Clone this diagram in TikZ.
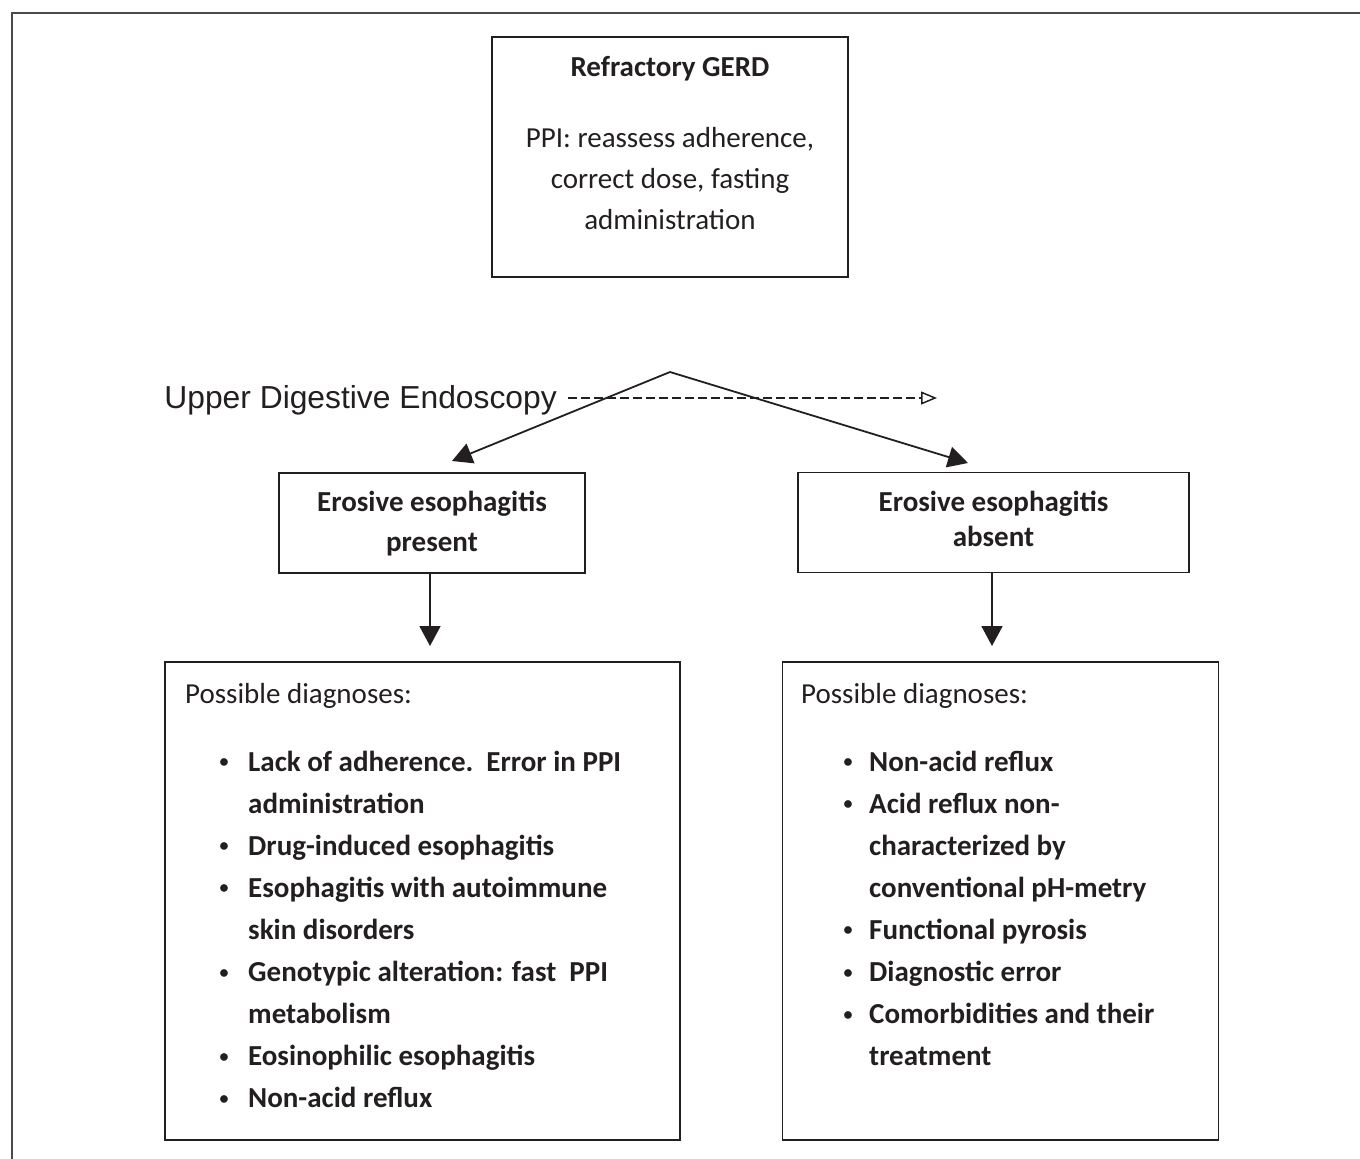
\documentclass[tikz,border=0pt]{standalone}
\usepackage{fontspec}
\setmainfont{Carlito}
\newfontfamily\arialfont{Liberation Sans}
\usetikzlibrary{arrows.meta}

\definecolor{inkgray}{HTML}{231F20}
\definecolor{framegray}{HTML}{4A4A4A}

\newcommand{\boxlines}[1]{\begin{tabular}[t]{@{}c@{}}#1\end{tabular}}
\newcommand{\dxitem}[1][19.5pt]{\llap{\raisebox{3.5pt}{\fontsize{18}{18}\selectfont\textbullet}\hspace{#1}}}

\tikzset{
  box/.style={draw=inkgray, line width=1.8pt, inner sep=0pt},
  txt/.style={inner sep=0pt, text=inkgray, font=\fontsize{29}{41}\selectfont},
  arr/.style={draw=inkgray, line width=1.8pt, -{Triangle[length=20pt,width=21pt]}},
}

\begin{document}
\begin{tikzpicture}[x=1pt,y=-1pt]
\useasboundingbox (0,0) rectangle (1360,1159);

% Outer frame (cut off at right and bottom)
\draw[framegray, line width=2pt] (12,1159) -- (12,13) -- (1360,13);

% Top box
\node[box, minimum width=356pt, minimum height=240pt] (gerd) at (670,157) {};
\node[txt, anchor=base, font=\fontsize{29}{41}\selectfont\bfseries] (gerdtitle) at (670,76) {Refractory GERD};
\node[txt, anchor=base] (gerdtext) at (670,147)
  {\boxlines{PPI: reassess adherence,\\correct dose, fasting\\administration}};

% Endoscopy
\node[txt, anchor=base east, font=\arialfont\fontsize{31.8}{38}\selectfont] (endo) at (557,408) {Upper Digestive Endoscopy};
\coordinate (apex) at (670,372);
\coordinate (dashend) at (937,398);
\coordinate (lefttip) at (452,461);
\coordinate (righttip) at (968,463);

% Second row
\node[box, minimum width=306pt, minimum height=100pt] (present) at (432,523) {};
\node[txt, anchor=base, font=\fontsize{29}{40}\selectfont\bfseries] (presenttext) at (432,511)
  {\boxlines{Erosive esophagitis\\present}};
\node[box, minimum width=391pt, minimum height=100pt] (absent) at (993.5,522.5) {};
\node[txt, anchor=base, font=\fontsize{29}{35}\selectfont\bfseries] (absenttext) at (993.5,511)
  {\boxlines{Erosive esophagitis\\absent}};
\coordinate (presentdown) at (430,646);
\coordinate (absentdown) at (992,646);

% Bottom row
\node[box, minimum width=515pt, minimum height=478pt] (dxpresent) at (422.5,901) {};
\node[txt, anchor=base west] (dxpresenthead) at (185,703) {Possible diagnoses:};
\node[txt, anchor=base west, font=\fontsize{29}{42.1}\selectfont\bfseries] (dxpresentlist) at (248,771)
  {\begin{tabular}[t]{@{}l@{}}
   \dxitem Lack of adherence.\ \ Error in PPI\\
   administration\\
   \dxitem Drug-induced esophagitis\\
   \dxitem Esophagitis with autoimmune\\
   skin disorders\\
   \dxitem Genotypic alteration: fast\ \ PPI\\
   metabolism\\
   \dxitem Eosinophilic esophagitis\\
   \dxitem Non-acid reflux
   \end{tabular}};

\node[box, minimum width=436pt, minimum height=478pt] (dxabsent) at (1000.5,901) {};
\node[txt, anchor=base west] (dxabsenthead) at (801,703) {Possible diagnoses:};
\node[txt, anchor=base west, font=\fontsize{29}{42.1}\selectfont\bfseries] (dxabsentlist) at (869,771)
  {\begin{tabular}[t]{@{}l@{}}
   \dxitem[16.5pt]Non-acid reflux\\
   \dxitem[16.5pt]Acid reflux non-\\
   characterized by\\
   conventional pH-metry\\
   \dxitem[16.5pt]Functional pyrosis\\
   \dxitem[16.5pt]Diagnostic error\\
   \dxitem[16.5pt]Comorbidities and their\\
   treatment
   \end{tabular}};

% Arrows
\draw[draw=inkgray, line width=2.2pt, dash pattern=on 9pt off 4pt,
  -{Triangle[open,length=16pt,width=13pt,line width=1.5pt]}] (endo.east |- dashend) ++(11,0) -- (dashend);
\draw[arr] (apex) -- (lefttip);
\draw[arr] (apex) -- (righttip);
\draw[arr] (present.south -| presentdown) -- (presentdown);
\draw[arr] (absent.south -| absentdown) -- (absentdown);

\end{tikzpicture}
\end{document}
